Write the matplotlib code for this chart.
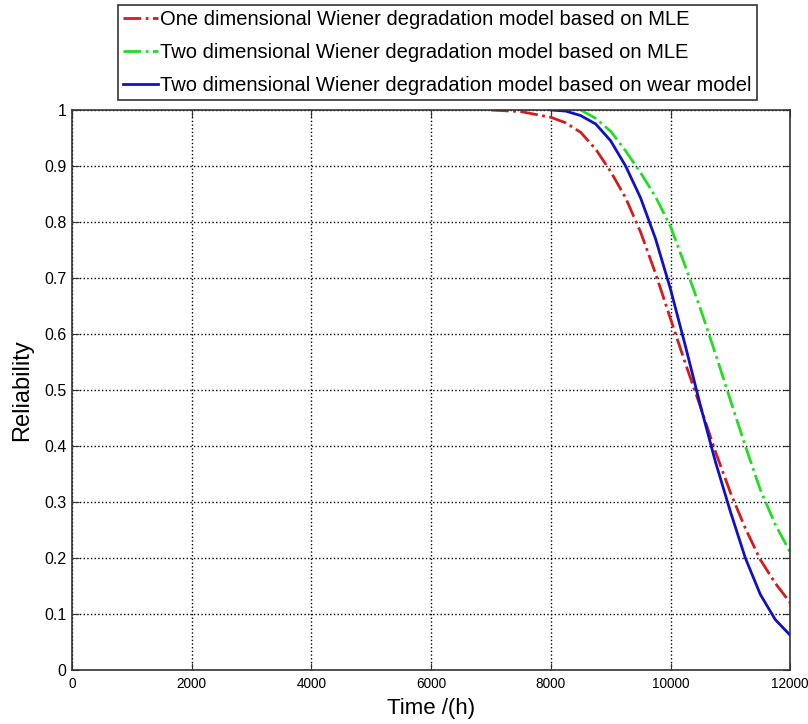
import numpy as np
import matplotlib
matplotlib.use('Agg')
import matplotlib.pyplot as plt

plt.rcParams['font.family'] = ['Liberation Sans', 'DejaVu Sans']

# reliability curves
t_one = [7000, 7500, 8000, 8250, 8500, 8750, 9000, 9250, 9500, 9750, 10000,
         10250, 10500, 10750, 11000, 11250, 11500, 11750, 12000]
r_one = [1.0, 0.997, 0.987, 0.977, 0.96, 0.93, 0.89, 0.843, 0.782, 0.708,
         0.627, 0.547, 0.47, 0.39, 0.317, 0.253, 0.197, 0.155, 0.12]

t_two = [8500, 8750, 9000, 9250, 9500, 9750, 10000, 10250, 10500, 10750,
         11000, 11250, 11500, 11750, 12000]
r_two = [1.0, 0.985, 0.962, 0.927, 0.888, 0.845, 0.792, 0.72, 0.645, 0.565,
         0.482, 0.40, 0.322, 0.26, 0.21]

t_wear = [8000, 8250, 8500, 8750, 9000, 9250, 9500, 9750, 10000, 10250,
          10500, 10750, 11000, 11250, 11500, 11750, 12000]
r_wear = [1.0, 0.998, 0.99, 0.975, 0.945, 0.9, 0.843, 0.77, 0.68, 0.578,
          0.472, 0.372, 0.283, 0.2, 0.135, 0.09, 0.062]

labels = ['One dimensional Wiener degradation model based on MLE',
          'Two dimensional Wiener degradation model based on MLE',
          'Two dimensional Wiener degradation model based on wear model']

xticks = [0, 2000, 4000, 6000, 8000, 10000, 12000]
yticks = [0, 0.1, 0.2, 0.3, 0.4, 0.5, 0.6, 0.7, 0.8, 0.9, 1]
yticklabels = ['0', '0.1', '0.2', '0.3', '0.4', '0.5', '0.6', '0.7', '0.8', '0.9', '1']

fig = plt.figure(figsize=(8.08, 7.24), dpi=100)
ax = fig.add_axes([0.089, 0.0746, 0.889, 0.7735])

l1, = ax.plot(t_one, r_one, color='#d41c1c', ls='-.', lw=2)
l2, = ax.plot(t_two, r_two, color='#22dd22', ls='-.', lw=2)
l3, = ax.plot(t_wear, r_wear, color='#1010c8', ls='-', lw=2)

ax.set_xlim(0, 12000)
ax.set_ylim(0, 1)
ax.set_xticks(xticks)
ax.set_xticklabels([str(v) for v in xticks], fontsize=9.8)
ax.set_yticks(yticks)
ax.set_yticklabels(yticklabels, fontsize=11.5)
ax.tick_params(direction='in', length=5, top=True, right=True, color='#333333', pad=4)
ax.tick_params(axis='x', pad=5)
ax.grid(True, ls=':', color='black', lw=1)
for s in ax.spines.values():
    s.set_color('#333333')
    s.set_linewidth(1.2)

ax.set_xlabel('Time /(h)', fontsize=16, labelpad=5)
ax.set_ylabel('Reliability', fontsize=17, labelpad=8)

leg = fig.legend([l1, l2, l3], labels, loc='upper left',
                 bbox_to_anchor=(0.146, 0.993), fontsize=14.5,
                 frameon=True, fancybox=False, handlelength=1.75,
                 handletextpad=0.1, borderpad=0.25, labelspacing=0.7,
                 borderaxespad=0)
leg.get_frame().set_edgecolor('black')
leg.get_frame().set_linewidth(1.2)

fig.savefig('out.png', dpi=100)
